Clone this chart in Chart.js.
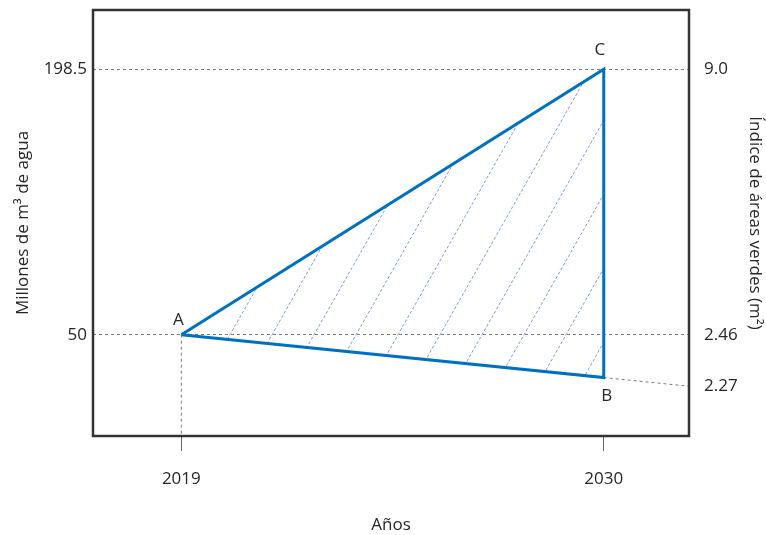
<!DOCTYPE html>
<html lang="es">
<head>
<meta charset="utf-8">
<title>Agua y áreas verdes 2019–2030</title>
<script src="https://cdn.jsdelivr.net/npm/chart.js@4.4.0/dist/chart.umd.min.js"></script>
<style>
  html, body { margin: 0; padding: 0; background: #fff; }
  #wrap { width: 766px; height: 535px; }
</style>
</head>
<body>
<div id="wrap"><canvas id="grafico"></canvas></div>
<script>
// Años marcados en el eje horizontal
var anios = [2019, 2030];

// Vértices del triángulo A, C, B
var nombresPuntos = ['A', 'C', 'B'];
var aniosPuntos = [2019, 2030, 2030];
var aguaPuntos = [50, 198.5, 26]; // millones de m3 (B leído sobre la escala izquierda)

// Marcas de los ejes verticales
var marcasAgua = [198.5, 50];
var marcasIndice = ['9.0', '2.46', '2.27'];

// Rango visible de los ejes
var X_MIN = 2016.7, X_MAX = 2032.22;
var Y_MIN = -6.7, Y_MAX = 231.7;

// Prolongación de A-B hasta el borde derecho (donde va la marca 2.27)
var pendienteAB = (aguaPuntos[2] - aguaPuntos[0]) / (aniosPuntos[2] - aniosPuntos[0]);
var aguaBorde = aguaPuntos[2] + pendienteAB * (X_MAX - aniosPuntos[2]);

var colorTexto = '#262626';
var colorGuia = '#7a7a7a';

Chart.defaults.font.family = "'Open Sans', sans-serif";
Chart.defaults.font.size = 17;
Chart.defaults.color = colorTexto;

// Relleno rayado (líneas diagonales punteadas) para el triángulo
function crearRayado() {
    var w = 42, h = 74;
    var c = document.createElement('canvas');
    c.width = w; c.height = h;
    var g = c.getContext('2d');
    g.strokeStyle = 'rgba(80, 120, 215, 0.75)';
    g.lineWidth = 1;
    g.setLineDash([3, 2]);
    g.beginPath();
    g.moveTo(-w, 2 * h);
    g.lineTo(2 * w, -h);
    g.stroke();
    return g.createPattern(c, 'repeat');
}

var triangulo = [0, 1, 2, 0].map(function (i) {
    return { x: aniosPuntos[i], y: aguaPuntos[i] };
});

// tamaño fijo de cada eje, sin márgenes extra por las etiquetas
function fijarTamano(prop, valor) {
    return function (s) {
        s[prop] = valor;
        s.paddingTop = 0; s.paddingBottom = 0;
        s.paddingLeft = 0; s.paddingRight = 0;
    };
}

// Marco negro alrededor del área del gráfico
var marcoPlugin = {
    id: 'marco',
    afterDraw: function (chart) {
        var a = chart.chartArea, ctx = chart.ctx;
        ctx.save();
        ctx.strokeStyle = '#333';
        ctx.lineWidth = 2.5;
        ctx.strokeRect(a.left, a.top, a.right - a.left, a.bottom - a.top);
        ctx.restore();
    }
};

// Letras de los vértices
var desplazamientos = { A: [-3, -15], C: [-4, -19], B: [3, 19] };
var letrasPlugin = {
    id: 'letras',
    afterDatasetsDraw: function (chart) {
        var ctx = chart.ctx;
        var sx = chart.scales.x, sy = chart.scales.y;
        ctx.save();
        ctx.font = "17px 'Open Sans', sans-serif";
        ctx.fillStyle = colorTexto;
        ctx.textAlign = 'center';
        ctx.textBaseline = 'middle';
        nombresPuntos.forEach(function (n, i) {
            var d = desplazamientos[n];
            ctx.fillText(n, sx.getPixelForValue(aniosPuntos[i]) + d[0], sy.getPixelForValue(aguaPuntos[i]) + d[1]);
        });
        ctx.restore();
    }
};

var ctx = document.getElementById('grafico').getContext('2d');
new Chart(ctx, {
    type: 'scatter',
    data: {
        datasets: [{
            data: triangulo,
            showLine: true,
            borderColor: '#0070C0',
            borderWidth: 3,
            borderJoinStyle: 'miter',
            backgroundColor: crearRayado(),
            fill: 'shape',
            pointRadius: 0,
            tension: 0
        }, {
            // guía vertical desde A hasta el eje
            data: [{ x: aniosPuntos[0], y: aguaPuntos[0] }, { x: aniosPuntos[0], y: Y_MIN }],
            showLine: true,
            borderColor: colorGuia,
            borderWidth: 1,
            borderDash: [3, 3],
            pointRadius: 0
        }, {
            // prolongación de A-B a la derecha de B
            data: [{ x: aniosPuntos[2], y: aguaPuntos[2] }, { x: X_MAX, y: aguaBorde }],
            showLine: true,
            borderColor: colorGuia,
            borderWidth: 1,
            borderDash: [3, 3],
            pointRadius: 0
        }]
    },
    options: {
        responsive: true,
        maintainAspectRatio: false,
        animation: false,
        layout: { padding: { top: 10, left: 0, right: 0, bottom: 0 } },
        plugins: { legend: { display: false }, tooltip: { enabled: false } },
        scales: {
            x: {
                type: 'linear',
                min: X_MIN, max: X_MAX,
                afterBuildTicks: function (s) { s.ticks = anios.map(function (v) { return { value: v }; }); },
                afterFit: fijarTamano('height', 99),
                ticks: { padding: 18, callback: function (v) { return String(v); } },
                grid: { drawOnChartArea: false, drawTicks: true, tickLength: 15, color: '#666', lineWidth: 1 },
                border: { display: false },
                title: { display: true, text: 'Años', padding: { top: 0, bottom: 0 } }
            },
            y: {
                type: 'linear',
                position: 'left',
                min: Y_MIN, max: Y_MAX,
                afterBuildTicks: function (s) { s.ticks = marcasAgua.map(function (v) { return { value: v }; }); },
                afterFit: fijarTamano('width', 93),
                ticks: { padding: 6, callback: function (v) { return String(v); } },
                grid: { drawTicks: false, color: colorGuia, lineWidth: 1 },
                border: { display: false, dash: [3, 3] },
                title: { display: true, text: 'Millones de m³ de agua', padding: { top: 13, bottom: 13 } }
            },
            y1: {
                type: 'linear',
                position: 'right',
                min: Y_MIN, max: Y_MAX,
                afterBuildTicks: function (s) {
                    s.ticks = [marcasAgua[0], marcasAgua[1], aguaBorde].map(function (v) { return { value: v }; });
                },
                afterFit: fijarTamano('width', 77),
                ticks: { padding: 15, callback: function (v, i) { return marcasIndice[i]; } },
                grid: { drawOnChartArea: false, drawTicks: false },
                border: { display: false },
                title: { display: true, text: 'Índice de áreas verdes (m²)', padding: { top: 1, bottom: 1 } }
            }
        }
    },
    plugins: [marcoPlugin, letrasPlugin]
});
</script>
</body>
</html>
